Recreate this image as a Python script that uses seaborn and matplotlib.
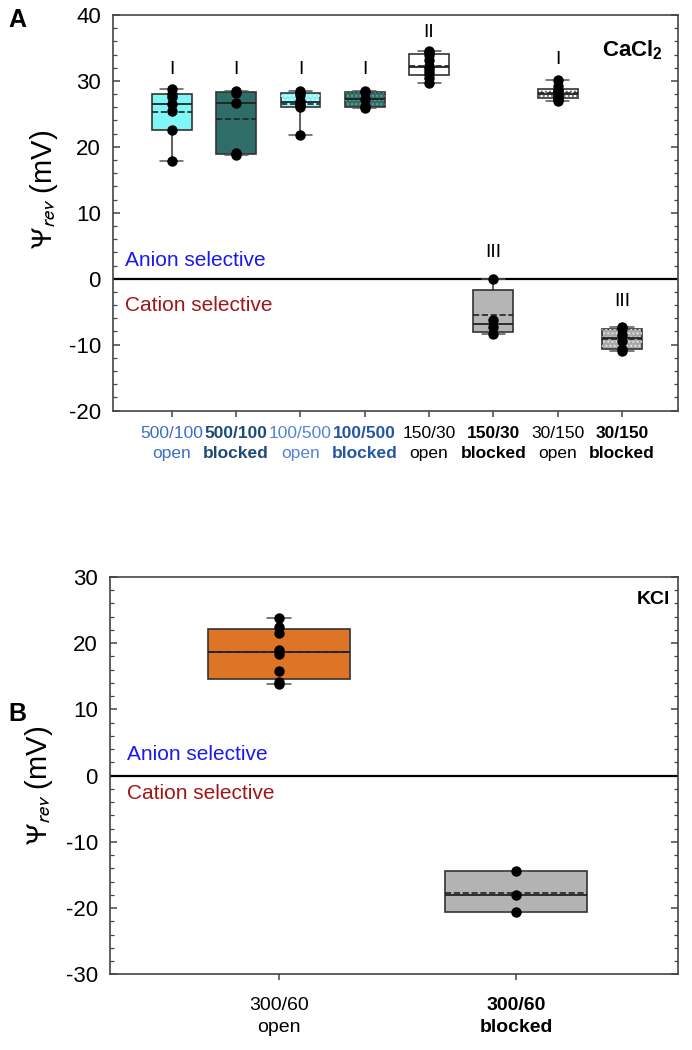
import numpy as np
import pandas as pd
import matplotlib
matplotlib.use('Agg')
import matplotlib.pyplot as plt
from matplotlib.patches import PathPatch
from matplotlib.ticker import MultipleLocator
import seaborn as sns

# panel A: CaCl2, reversal potential (mV) per condition
cats_a = ['500/100\nopen', '500/100\nblocked', '100/500\nopen', '100/500\nblocked',
          '150/30\nopen', '150/30\nblocked', '30/150\nopen', '30/150\nblocked']
ca_500_100_open = [17.9, 22.5, 25.4, 26.5, 27.5, 28.0, 28.8]
ca_500_100_blocked = [18.7, 19.1, 26.7, 28.2, 28.4]
ca_100_500_open = [21.8, 26.0, 26.3, 26.6, 27.0, 27.8, 28.2, 28.4]
ca_100_500_blocked = [25.9, 26.2, 27.2, 28.3, 28.4]
ca_150_30_open = [29.7, 30.5, 31.0, 31.5, 31.9, 32.2, 33.2, 34.0, 34.4, 34.6]
ca_150_30_blocked = [-8.35, -7.4, -6.3, -0.1]
ca_30_150_open = [27.0, 27.2, 27.4, 27.6, 27.9, 28.1, 28.4, 28.7, 29.3, 30.2]
ca_30_150_blocked = [-11.0, -10.6, -9.5, -8.5, -7.7, -7.4]
groups_a = ['I', 'I', 'I', 'I', 'II', 'III', 'I', 'III']

# panel B: KCl
cats_b = ['300/60\nopen', '300/60\nblocked']
k_300_60_open = [13.9, 14.2, 15.8, 18.3, 18.9, 21.5, 22.4, 23.8]
k_300_60_blocked = [-20.6, -18.1, -14.4]

# styling
colors_a = ['#80f6f6', '#2f6d68', '#80f6f6', '#2f6d68', 'white', '#b5b5b5', 'white', '#a8a8a8']
stipple_a = [None, None, '#e6ffff', '#6a9c97', None, None, '#666666', '#e2e2e2']
tick_colors_a = ['#3b6fc2', '#1e4a7a', '#5485d2', '#2455a6', 'black', 'black', 'black', 'black']
tick_weights_a = ['normal', 'bold'] * 4
group_y_a = [31.7, 31.7, 31.7, 31.7, 37.3, 3.9, 33.3, -3.5]
colors_b = ['#de7426', '#b3b3b3']
tick_weights_b = ['normal', 'bold']

sns.set_theme(style='ticks')
plt.rcParams['font.family'] = ['Liberation Sans', 'DejaVu Sans']
plt.rcParams['mathtext.fontset'] = 'custom'
plt.rcParams['mathtext.rm'] = 'Liberation Sans'
plt.rcParams['mathtext.it'] = 'Liberation Sans:italic'
plt.rcParams['mathtext.bf'] = 'Liberation Sans:bold'
plt.rcParams['axes.unicode_minus'] = False
plt.rcParams['text.color'] = 'black'
plt.rcParams['axes.labelcolor'] = 'black'
plt.rcParams['xtick.color'] = 'black'
plt.rcParams['ytick.color'] = 'black'
plt.rcParams['hatch.linewidth'] = 1.0


def box_stats(vals):
    v = np.asarray(vals, dtype=float)
    q1, med, q3 = np.percentile(v, [25, 50, 75], method='weibull')
    return dict(med=med, q1=q1, q3=q3, whislo=v.min(), whishi=v.max(),
                mean=v.mean(), fliers=[])


def draw_panel(ax, cats, series, colors, width, capw):
    df = pd.DataFrame({'cond': np.repeat(cats, [len(s) for s in series]),
                       'val': np.concatenate(series)})
    stats = [box_stats(df.loc[df['cond'] == c, 'val']) for c in cats]
    art = ax.bxp(stats, positions=range(len(cats)), widths=width, capwidths=capw,
                 patch_artist=True, showmeans=True, meanline=True, manage_ticks=False,
                 boxprops=dict(edgecolor='#333333', linewidth=1.2),
                 medianprops=dict(color='#222222', linewidth=1.3),
                 meanprops=dict(color='#222222', linestyle='--', linewidth=1.2),
                 whiskerprops=dict(color='#333333', linewidth=1.1),
                 capprops=dict(color='#555555', linewidth=1.1))
    for patch, c in zip(art['boxes'], colors):
        patch.set_facecolor(c)
    sns.stripplot(data=df, x='cond', y='val', order=cats, jitter=False, color='black',
                  size=7.5, linewidth=0, ax=ax, zorder=5)
    return art


def style_axis(ax, ylim, major, minor, xpad):
    ax.set_ylim(*ylim)
    ax.yaxis.set_major_locator(MultipleLocator(major))
    ax.yaxis.set_minor_locator(MultipleLocator(minor))
    ax.tick_params(axis='y', which='both', direction='in', left=True, right=True,
                   labelsize=16, pad=9, color='#444444', labelcolor='black')
    ax.tick_params(axis='y', which='major', length=5, width=1.1)
    ax.tick_params(axis='y', which='minor', length=3, width=0.9)
    ax.tick_params(axis='x', which='major', direction='out', length=4, width=1.1,
                   color='#444444', pad=xpad)
    ax.tick_params(axis='x', which='minor', bottom=False, top=False)
    for sp in ax.spines.values():
        sp.set_visible(True)
        sp.set_color('#444444')
        sp.set_linewidth(1.2)
    ax.axhline(0, color='black', linewidth=1.6, zorder=1)
    ax.set_xlabel('')
    ax.set_ylabel(r'$\mathit{\Psi}_{\mathsf{\mathit{rev}}}$ (mV)', fontsize=21,
                  color='black', math_fontfamily='stixsans')


fig = plt.figure(figsize=(6.92, 10.5), dpi=100)
fig.patch.set_facecolor('white')

# ---- panel A
ax_a = fig.add_axes([0.1637, 0.6090, 0.8161, 0.3767])
series_a = [ca_500_100_open, ca_500_100_blocked, ca_100_500_open, ca_100_500_blocked,
            ca_150_30_open, ca_150_30_blocked, ca_30_150_open, ca_30_150_blocked]
art_a = draw_panel(ax_a, cats_a, series_a, colors_a, 0.62, 0.36)
for patch, hc in zip(art_a['boxes'], stipple_a):
    if hc:
        ax_a.add_patch(PathPatch(patch.get_path(), facecolor='none', edgecolor=hc,
                                 linewidth=0, hatch='....', zorder=2.05))
style_axis(ax_a, (-20, 40), 10, 2, 7)
ax_a.set_xlim(-0.91, 7.87)
for lbl, c, w in zip(ax_a.get_xticklabels(), tick_colors_a, tick_weights_a):
    lbl.set_color(c)
    lbl.set_fontweight(w)
    lbl.set_fontsize(12.5)
    lbl.set_linespacing(1.45)
for i, (g, gy) in enumerate(zip(groups_a, group_y_a)):
    ax_a.text(i, gy, g, ha='center', va='center', fontsize=14)
ax_a.text(0.973, 34.6, r'CaCl$_\mathbf{2}$', transform=ax_a.get_yaxis_transform(),
          ha='right', va='center', fontsize=16, fontweight='bold')
ax_a.text(0.021, 2.7, 'Anion selective', transform=ax_a.get_yaxis_transform(),
          ha='left', va='center', fontsize=15, color='#1a1aee')
ax_a.text(0.021, -4.0, 'Cation selective', transform=ax_a.get_yaxis_transform(),
          ha='left', va='center', fontsize=15, color='#a01515')
ax_a.yaxis.set_label_coords(-0.094, 0.56)

# ---- panel B
ax_b = fig.add_axes([0.1595, 0.0721, 0.8202, 0.3784])
series_b = [k_300_60_open, k_300_60_blocked]
draw_panel(ax_b, cats_b, series_b, colors_b, 0.60, 0.1)
style_axis(ax_b, (-30, 30), 10, 2, 12)
ax_b.set_xlim(-0.709, 1.681)
for lbl, w in zip(ax_b.get_xticklabels(), tick_weights_b):
    lbl.set_fontweight(w)
    lbl.set_fontsize(14)
    lbl.set_linespacing(1.45)
ax_b.text(0.986, 26.6, 'KCl', transform=ax_b.get_yaxis_transform(),
          ha='right', va='center', fontsize=14, fontweight='bold')
ax_b.text(0.029, 3.2, 'Anion selective', transform=ax_b.get_yaxis_transform(),
          ha='left', va='center', fontsize=15, color='#1a1aee')
ax_b.text(0.029, -2.7, 'Cation selective', transform=ax_b.get_yaxis_transform(),
          ha='left', va='center', fontsize=15, color='#a01515')
ax_b.yaxis.set_label_coords(-0.0976, 0.476)

fig.text(0.012, 0.992, 'A', ha='left', va='top', fontsize=18, fontweight='bold')
fig.text(0.012, 0.331, 'B', ha='left', va='top', fontsize=18, fontweight='bold')

fig.savefig('out.png', dpi=100, facecolor='white')
